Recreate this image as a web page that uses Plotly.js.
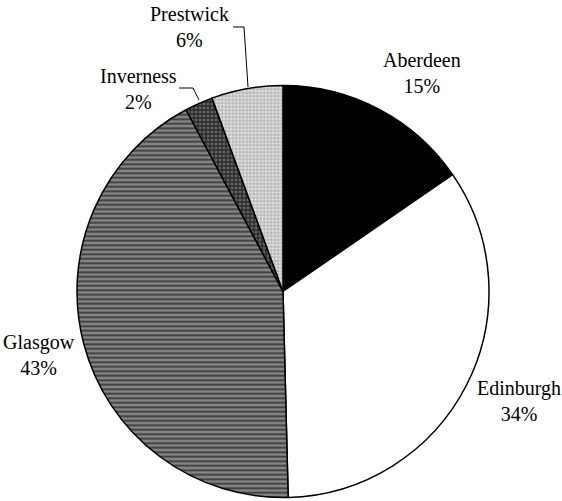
<!DOCTYPE html>
<html>
<head>
<meta charset="utf-8">
<script src="https://cdn.plot.ly/plotly-3.0.1.min.js"></script>
<style>html,body{margin:0;padding:0;background:#fff;}#chart{width:562px;height:501px;}</style>
</head>
<body>
<div id="chart"></div>
<script>
// ---- data ----
var airports = ["Aberdeen", "Edinburgh", "Glasgow", "Inverness", "Prestwick"];
var shares = [15.4, 34.2, 42.6, 2.2, 5.6];

// ---- styles ----
var fills = ["#000000", "#ffffff", "#808080", "#5a5a5a", "#dcdcdc"];
var patterns = [
  {shape: ""},
  {shape: ""},
  {shape: "-", fgcolor: "#3a3a3a", bgcolor: "#858585", size: 4.5, solidity: 0.4},
  {shape: "+", fgcolor: "#1a1a1a", bgcolor: "#626262", size: 4, solidity: 0.45},
  {shape: "+", fgcolor: "#9c9c9c", bgcolor: "#e2e2e2", size: 3.5, solidity: 0.35}
];

var W = 562, H = 501;
function px(x){ return x / W; }
function py(y){ return 1 - y / H; }

// label placement (pixels), layout only
var labelPos = [[422, 73], [519, 401], [39, 355], [138, 89], [189, 27]];

var total = shares.reduce(function(a,b){return a+b;}, 0);
var FONT = "Liberation Serif";
var annotations = airports.map(function(name, i){
  return {
    xref: "paper", yref: "paper",
    x: px(labelPos[i][0]), y: py(labelPos[i][1]),
    xanchor: "center", yanchor: "middle",
    text: name + "<br>" + Math.round(shares[i] / total * 100) + "%",
    showarrow: false, align: "center",
    font: {family: FONT, size: 20, color: "#000"}
  };
});

function pathFromPx(pts){
  return pts.map(function(p, k){
    return (k ? "L " : "M ") + px(p[0]) + "," + py(p[1]);
  }).join(" ");
}
var shapes = [
  {type: "path", xref: "paper", yref: "paper", path: pathFromPx([[233,27],[244,27],[248,87]]), line: {color: "#000", width: 1}},
  {type: "path", xref: "paper", yref: "paper", path: pathFromPx([[179,88],[193,88],[199,100]]), line: {color: "#000", width: 1}}
];

var trace = {
  type: "pie",
  labels: airports,
  values: shares,
  sort: false,
  direction: "clockwise",
  rotation: 0,
  textinfo: "none",
  hoverinfo: "label+percent",
  showlegend: false,
  domain: {x: [77/W, 489/W], y: [1 - 497.5/H, 1 - 85.5/H]},
  marker: {
    colors: fills,
    pattern: {
      shape: patterns.map(function(p){return p.shape;}),
      fgcolor: patterns.map(function(p){return p.fgcolor || "#000";}),
      bgcolor: patterns.map(function(p, i){return p.bgcolor || fills[i];}),
      size: patterns.map(function(p){return p.size || 4;}),
      solidity: patterns.map(function(p){return p.solidity || 0.3;}),
      fillmode: "replace"
    },
    line: {color: "#000", width: 1.5}
  }
};

var layout = {
  width: W, height: H,
  margin: {l: 0, r: 0, t: 0, b: 0},
  paper_bgcolor: "#fff",
  plot_bgcolor: "#fff",
  font: {family: FONT},
  showlegend: false,
  annotations: annotations,
  shapes: shapes
};

Plotly.newPlot("chart", [trace], layout, {displayModeBar: false, staticPlot: true});
</script>
</body>
</html>
